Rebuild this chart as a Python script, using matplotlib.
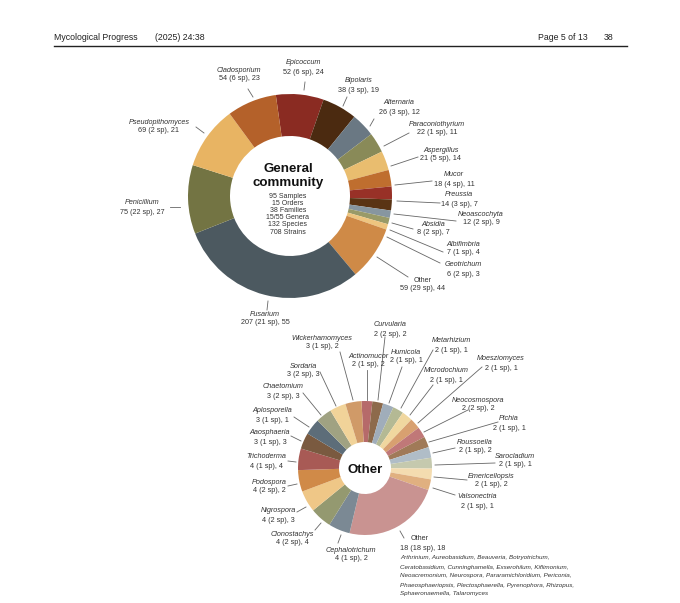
import matplotlib
matplotlib.use('Agg')
import matplotlib.pyplot as plt

plt.rcParams['font.family'] = ['Liberation Sans', 'DejaVu Sans']

W, H = 680, 603

# general community (clockwise from Epicoccum)
gen_names = ['Epicoccum', 'Bipolaris', 'Alternaria', 'Paraconiothyrium', 'Aspergillus',
             'Mucor', 'Preussia', 'Neoascochyta', 'Absidia', 'Albifimbria', 'Geotrichum',
             'Other', 'Fusarium', 'Penicillium', 'Pseudopithomyces', 'Cladosporium']
gen_strains = [52, 38, 26, 22, 21, 18, 14, 12, 8, 7, 6, 59, 207, 75, 69, 54]
gen_species = [6, 3, 3, 1, 5, 4, 3, 2, 2, 1, 2, 29, 21, 22, 2, 6]
gen_samples = [24, 19, 12, 11, 14, 11, 7, 9, 7, 4, 3, 44, 55, 27, 21, 23]
gen_colors = ['#8a2b22', '#4b2a10', '#6a7883', '#898a58', '#e9bd6f', '#bf6e2f',
              '#983127', '#5a3414', '#8796a0', '#999a68', '#eec57f', '#cf8a47',
              '#4c5960', '#737443', '#e8b463', '#b4612a']
gen_summary = ['95 Samples', '15 Orders', '38 Families', '15/55 Genera', '132 Species', '708 Strains']

# "Other" group (clockwise from top)
oth_names = ['Actinomucor', 'Curvularia', 'Humicola', 'Metarhizium', 'Microdochium',
             'Moesziomyces', 'Neocosmospora', 'Pichia', 'Roussoella', 'Sarocladium',
             'Emericellopsis', 'Valsonectria', 'Other', 'Cephalotrichum', 'Clonostachys',
             'Nigrospora', 'Podospora', 'Trichoderma', 'Aaosphaeria', 'Aplosporella',
             'Chaetomium', 'Sordaria', 'Wickerhamomyces']
oth_strains = [2, 2, 2, 2, 2, 2, 2, 2, 2, 2, 2, 2, 18, 4, 4, 4, 4, 4, 3, 3, 3, 3, 3]
oth_species = [1, 2, 1, 1, 1, 1, 2, 1, 1, 1, 1, 1, 18, 1, 2, 2, 2, 1, 1, 1, 2, 2, 1]
oth_samples = [2, 2, 1, 1, 1, 1, 2, 1, 2, 1, 2, 1, 18, 2, 4, 3, 2, 4, 3, 1, 3, 3, 2]
oth_colors = ['#b66a6a', '#8d6a4b', '#a0adba', '#b4b994', '#f0d79f', '#d8a070',
              '#c07878', '#a07a58', '#b0bdc7', '#c5c9ae', '#f4dcb0', '#e0b080',
              '#c99391', '#7b8994', '#949970', '#efc787', '#d08a48', '#a85a55',
              '#7a5a40', '#5d6d79', '#a0a282', '#f1d399', '#d09a68']
other_list = ['Arthrinium, Aureobasidium, Beauveria, Botryotrichum,',
              'Ceratobasidium, Cunninghamella, Exserohilum, Kiflimonium,',
              'Neoacremonium, Neurospora, Pararamichloridium, Periconia,',
              'Phaeosphaeriopsis, Plectosphaerella, Pyrenophora, Rhizopus,',
              'Sphaeronaemella, Talaromyces']

# label layout (pixels): name position, leader line start/end
gen_layout = {
    'Cladosporium': ((239, 70), (248, 89), (253, 97)),
    'Epicoccum': ((303, 63), (305, 82), (304, 90)),
    'Bipolaris': ((359, 81), (347, 97), (343, 106)),
    'Alternaria': ((399, 103), (374, 119), (370, 126)),
    'Paraconiothyrium': ((437, 124), (409, 133), (384, 146)),
    'Aspergillus': ((441, 150), (418, 157), (391, 166)),
    'Mucor': ((454, 175), (432, 181), (395, 185)),
    'Preussia': ((459, 195), (440, 203), (397, 201)),
    'Neoascochyta': ((481, 214), (456, 221), (394, 214)),
    'Absidia': ((433, 224), (413, 229), (392, 223)),
    'Albifimbria': ((463, 244), (443, 252), (390, 230)),
    'Geotrichum': ((463, 265), (440, 263), (387, 237)),
    'Other': ((423, 280), (408, 277), (377, 257)),
    'Fusarium': ((265, 314), (267, 310), (268, 301)),
    'Penicillium': ((142, 203), (170, 207), (180, 207)),
    'Pseudopithomyces': ((159, 122), (196, 127), (204, 133)),
}
oth_layout = {
    'Curvularia': ((390, 325), (385, 337), (378, 400)),
    'Wickerhamomyces': ((322, 338), (340, 352), (353, 400)),
    'Actinomucor': ((368, 356), (367, 370), (367, 400)),
    'Humicola': ((406, 352), (402, 367), (389, 403)),
    'Metarhizium': ((451, 341), (433, 350), (401, 408)),
    'Microdochium': ((446, 371), (433, 385), (410, 415)),
    'Moesziomyces': ((501, 359), (482, 367), (418, 423)),
    'Neocosmospora': ((478, 400), (468, 410), (424, 432)),
    'Pichia': ((509, 419), (498, 422), (429, 442)),
    'Roussoella': ((475, 442), (455, 448), (433, 453)),
    'Sarocladium': ((515, 456), (495, 463), (435, 465)),
    'Emericellopsis': ((491, 476), (467, 480), (434, 477)),
    'Valsonectria': ((477, 497), (455, 495), (433, 488)),
    'Sordaria': ((303, 366), (320, 372), (336, 406)),
    'Chaetomium': ((283, 387), (303, 393), (321, 415)),
    'Aplosporella': ((272, 411), (294, 417), (309, 427)),
    'Aaosphaeria': ((270, 433), (291, 436), (301, 441)),
    'Trichoderma': ((266, 457), (288, 461), (296, 462)),
    'Podospora': ((269, 482), (288, 486), (297, 484)),
    'Nigrospora': ((278, 511), (297, 512), (306, 507)),
    'Clonostachys': ((292, 534), (315, 530), (321, 523)),
    'Cephalotrichum': ((351, 550), (338, 543), (341, 535)),
}


def Y(y):
    return H - y


fig = plt.figure(figsize=(W / 100, H / 100), dpi=100)
ax = fig.add_axes([0, 0, 1, 1])

# page header
hdr = dict(fontsize=6.3, color='#222222', va='center')
ax.text(54, Y(37), 'Mycological Progress', ha='left', **hdr)
ax.text(155, Y(37), '(2025) 24:38', ha='left', **hdr)
ax.text(588, Y(37), 'Page 5 of 13', ha='right', **hdr)
ax.text(613, Y(37), '38', ha='right', **hdr)
ax.plot([54, 627], [Y(46), Y(46)], color='#222222', lw=1.0)

txt = '#333333'
lab_fs = 5.2
line_c = '#666666'

# general community donut
ax.pie(gen_strains, colors=gen_colors, startangle=98, counterclock=False,
       center=(290, Y(196)), radius=102, wedgeprops=dict(width=42, linewidth=0))
ax.text(288, Y(169), 'General', ha='center', va='center', fontsize=9.6, fontweight='bold', color='#111111')
ax.text(288, Y(183), 'community', ha='center', va='center', fontsize=9.6, fontweight='bold', color='#111111')
for i, s in enumerate(gen_summary):
    ax.text(288, Y(196 + i * 7.2), s, ha='center', va='center', fontsize=5.0, color=txt)

for n, st, sp, sa in zip(gen_names, gen_strains, gen_species, gen_samples):
    (tx, ty), p0, p1 = gen_layout[n]
    ax.text(tx, Y(ty), n, ha='center', va='center', fontsize=lab_fs, style='italic' if n != 'Other' else 'normal', color=txt)
    ax.text(tx, Y(ty + 9), '%d (%d sp), %d' % (st, sp, sa), ha='center', va='center', fontsize=lab_fs, color=txt)
    ax.plot([p0[0], p1[0]], [Y(p0[1]), Y(p1[1])], color=line_c, lw=0.6)

# "Other" donut
ax.pie(oth_strains, colors=oth_colors, startangle=93, counterclock=False,
       center=(365, Y(468)), radius=67, wedgeprops=dict(width=41, linewidth=0))
ax.text(365, Y(470), 'Other', ha='center', va='center', fontsize=9.5, fontweight='bold', color='#111111')

for n, st, sp, sa in zip(oth_names, oth_strains, oth_species, oth_samples):
    if n == 'Other':
        ax.text(411, Y(539), n, ha='left', va='center', fontsize=lab_fs, color=txt)
        ax.text(400, Y(548), '%d (%d sp), %d' % (st, sp, sa), ha='left', va='center', fontsize=lab_fs, color=txt)
        ax.plot([400, 404], [Y(531), Y(538)], color=line_c, lw=0.6)
        continue
    (tx, ty), p0, p1 = oth_layout[n]
    ax.text(tx, Y(ty), n, ha='center', va='center', fontsize=lab_fs, style='italic', color=txt)
    ax.text(tx, Y(ty + 9), '%d (%d sp), %d' % (st, sp, sa), ha='center', va='center', fontsize=lab_fs, color=txt)
    ax.plot([p0[0], p1[0]], [Y(p0[1]), Y(p1[1])], color=line_c, lw=0.6)

for i, s in enumerate(other_list):
    ax.text(400, Y(558 + i * 9), s, ha='left', va='center', fontsize=4.5, style='italic', color=txt)

# pie() resets the limits, so set them last
ax.set_xlim(0, W)
ax.set_ylim(0, H)
ax.set_aspect('auto')
ax.axis('off')

fig.savefig('out.png', dpi=100)
